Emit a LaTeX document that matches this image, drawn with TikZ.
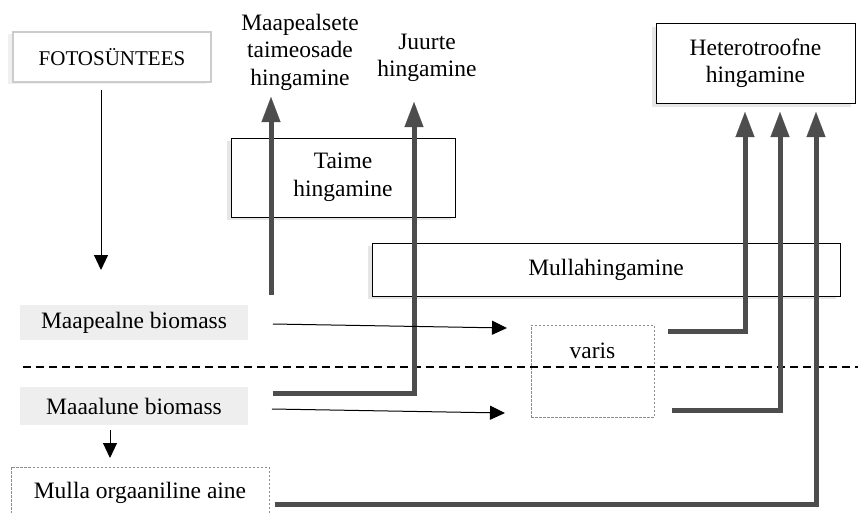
\documentclass[tikz,border=0pt]{standalone}
\usepackage{fontspec}
\setmainfont{Liberation Serif}
\usetikzlibrary{arrows.meta,shadows}
\definecolor{darkgr}{HTML}{4D4D4D}
\definecolor{lightfill}{HTML}{EEEEEE}
\begin{document}
\begin{tikzpicture}[x=1pt,y=-1pt,
  every node/.style={font=\fontsize{23.5}{27.5}\selectfont, align=center, inner sep=0pt},
  sbox/.style={draw=black, line width=1pt, fill=white,
    drop shadow={shadow xshift=-4pt, shadow yshift=-3pt, opacity=0.2}},
  fotobox/.style={draw=black!20, line width=2pt, fill=white,
    drop shadow={shadow xshift=-5pt, shadow yshift=-2pt, opacity=0.12}},
  biobox/.style={fill=lightfill, draw=none},
  dbox/.style={draw=black!45, line width=0.8pt, dash pattern=on 2.5pt off 1.5pt},
  thinarrow/.style={-{Triangle[width=14pt,length=15pt]}, line width=1pt, black},
  thickarrow/.style={-{Triangle[width=19pt,length=25pt,line width=0.1pt,fill=darkgr]}, line width=5pt, draw=darkgr}
]
\useasboundingbox (0,0) rectangle (865,512);

% boxes
\node[fotobox, minimum width=198pt, minimum height=50pt, font=\fontsize{21}{25}\selectfont] (foto) at (112,57) {FOTOSÜNTEES};
\node[sbox, minimum width=224pt, minimum height=79pt] (taime) at (343,177.5) {Taime\\hingamine};
\node[sbox, minimum width=468pt, minimum height=53pt] (mulla) at (606,269.5) {Mullahingamine};
\node[sbox, minimum width=199pt, minimum height=80pt] (hetero) at (755.5,63.5) {Heterotroofne\\hingamine};
\node[biobox, minimum width=228pt, minimum height=35pt] (mpb) at (134,322.5) {Maapealne biomass};
\node[biobox, minimum width=228pt, minimum height=38pt] (mab) at (134,406) {Maaalune biomass};
\node[dbox, minimum width=123pt, minimum height=92pt] (varis) at (592.5,371) {};
\node[anchor=base] (varistext) at (592.5,358) {varis};
\node[dbox, minimum width=258pt, minimum height=52pt] (moa) at (140,493) {Mulla orgaaniline aine};

% free text
\node (maap) at (300,52) {Maapealsete\\taimeosade\\hingamine};
\node (juur) at (427,58) {Juurte\\hingamine};

% dashed soil line
\coordinate (dl) at (23,367);
\coordinate (dr) at (858,367);
\draw[line width=1.5pt, dash pattern=on 8pt off 5pt] (dl) -- (dr);

% coordinates
\coordinate (fa) at (101,90);
\coordinate (fb) at (101,270);
\coordinate (a1s) at (271,295);
\coordinate (a1t) at (271,97);
\coordinate (a2s) at (273,393);
\coordinate (a2c) at (414,393);
\coordinate (a2t) at (414,102);
\coordinate (t1s) at (273,324);
\coordinate (t1t) at (507,328);
\coordinate (t2s) at (272,409);
\coordinate (t2t) at (505,413);
\coordinate (h1s) at (668,331);
\coordinate (h1c) at (745,331);
\coordinate (h1t) at (745,112);
\coordinate (h2s) at (672,410);
\coordinate (h2c) at (780,410);
\coordinate (h2t) at (780,112);
\coordinate (h3s) at (275,504);
\coordinate (h3c) at (816,504);
\coordinate (h3t) at (816,112);
\coordinate (ms) at (110,430);
\coordinate (mt) at (110,458);

% connectors
\draw[thinarrow] (fa) -- (fb);
\draw[thickarrow] (a1s) -- (a1t);
\draw[thickarrow] (a2s) -- (a2c) -- (a2t);
\draw[thinarrow] (t1s) -- (t1t);
\draw[thinarrow] (t2s) -- (t2t);
\draw[thickarrow] (h1s) -- (h1c) -- (h1t);
\draw[thickarrow] (h2s) -- (h2c) -- (h2t);
\draw[thickarrow] (h3s) -- (h3c) -- (h3t);
\draw[thinarrow] (ms) -- (mt);
\end{tikzpicture}
\end{document}
